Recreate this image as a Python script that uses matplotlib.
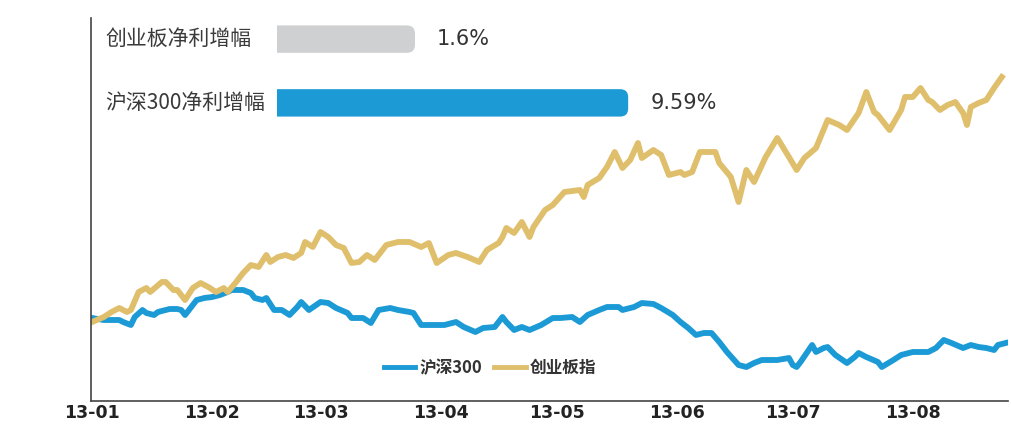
import numpy as np
import matplotlib
matplotlib.use("Agg")
import matplotlib.pyplot as plt
import matplotlib.transforms as mtransforms
from matplotlib.patches import FancyBboxPatch

plt.rcParams['font.family'] = ['Noto Sans CJK SC', 'DejaVu Sans']

# ---------------- data ----------------
start_date = np.datetime64('2013-01-01')
month_labels = ['13-01', '13-02', '13-03', '13-04', '13-05', '13-06', '13-07', '13-08']

series_names = ['沪深300', '创业板指']

# days since 2013-01-01 and relative index level (arbitrary units)
cyb_days = [0, 3, 5, 7, 9, 10, 12, 14, 15, 18, 19, 21, 22, 24, 26, 28, 30, 32, 34, 35,
            37, 39, 41, 43, 45, 46, 48, 50, 52, 54, 55, 57, 59, 61, 63, 65, 67, 69, 71, 73,
            76, 79, 82, 85, 87, 89, 92, 94, 97, 100, 102, 105, 106, 107, 109, 111, 113, 114, 117, 119,
            122, 126, 127, 128, 131, 133, 135, 137, 139, 141, 142, 145, 147, 149, 152, 153, 155, 157, 161, 162,
            165, 167, 169, 171, 174, 177, 180, 182, 184, 187, 190, 193, 195, 198, 200, 202, 203, 206, 209, 210,
            212, 214, 216, 217, 219, 221, 223, 225, 226, 227, 229, 231, 233, 235]
cyb_vals = [79, 84, 89, 93, 89, 91, 109, 113, 109, 119,
            119, 111, 111, 101, 113, 118, 114, 109, 113, 109,
            118, 128, 136, 134, 146, 139, 144, 146, 143, 148,
            159, 154, 169, 164, 156, 153, 138, 139, 146, 141,
            156, 159, 159, 154, 158, 138, 146, 148, 144, 139,
            151, 158, 164, 173, 168, 179, 164, 174, 191, 196,
            209, 211, 204, 216, 223, 234, 249, 233, 241, 258,
            243, 251, 246, 226, 229, 226, 229, 249, 249, 238,
            224, 199, 231, 219, 244, 263, 244, 231, 243, 253,
            281, 276, 271, 288, 309, 289, 286, 271, 291, 304,
            304, 313, 301, 299, 291, 296, 299, 288, 276, 294,
            298, 301, 313, 324]

hs300_days = [0, 3, 5, 7, 8, 10, 11, 13, 14, 16, 17, 20, 22, 23, 24, 26, 27, 29, 31, 33,
              35, 36, 39, 41, 42, 44, 45, 47, 49, 51, 53, 54, 56, 59, 61, 63, 66, 67, 70, 72,
              74, 77, 79, 82, 83, 85, 88, 91, 94, 96, 99, 101, 104, 106, 107, 109, 111, 113, 116, 119,
              121, 124, 126, 128, 131, 133, 136, 137, 140, 142, 145, 147, 150, 152, 154, 156, 158, 160, 162, 164,
              167, 169, 171, 173, 177, 180, 181, 182, 183, 186, 187, 189, 190, 192, 195, 197, 198, 200, 203, 204,
              207, 209, 212, 216, 218, 220, 222, 225, 227, 229, 231, 233, 234, 236]
hs300_vals = [83, 81, 81, 81, 79, 76, 84, 91, 88, 86,
              89, 92, 92, 91, 86, 96, 101, 103, 104, 106,
              109, 111, 111, 108, 103, 101, 103, 91, 91, 86,
              94, 99, 91, 99, 98, 93, 88, 83, 83, 78,
              91, 93, 91, 89, 88, 76, 76, 76, 79, 74,
              69, 73, 74, 84, 79, 71, 74, 71, 76, 83,
              83, 84, 79, 86, 91, 94, 94, 91, 94, 98,
              97, 93, 86, 79, 73, 66, 68, 68, 59, 49,
              36, 34, 38, 41, 41, 43, 36, 34, 39, 56,
              49, 53, 54, 46, 38, 44, 48, 44, 39, 34,
              41, 46, 49, 49, 53, 61, 58, 53, 56, 54,
              53, 51, 56, 58]

bar_labels = ['创业板净利增幅', '沪深300净利增幅']
bar_values = [1.6, 9.59]
bar_texts = ['1.6%', '9.59%']

# ---------------- style ----------------
BLUE = '#1b9ad6'
GOLD = '#dfbf6b'
GRAY_BAR = '#cfd0d2'
TEXT = '#333333'
W, H = 1012, 425

fig = plt.figure(figsize=(W / 100, H / 100), dpi=100)
fig.patch.set_facecolor('white')

ax = fig.add_axes([91 / W, 1 - 401 / H, (1008 - 91) / W, (401 - 18) / H])
l1, = ax.plot(hs300_days, hs300_vals, color=BLUE, lw=4.2, solid_joinstyle='round')
l2, = ax.plot(cyb_days, cyb_vals, color=GOLD, lw=4.2, solid_joinstyle='round')

ax.set_xlim(-0.3, 236.6)
ax.set_ylim(0, 383)

month_starts = np.arange('2013-01', '2013-09', dtype='datetime64[M]').astype('datetime64[D]')
tick_pos = (month_starts - start_date).astype(int)
ax.set_xticks(tick_pos)
ax.set_xticklabels(month_labels, fontsize=12.5, color='#222222', family=['DejaVu Sans'],
                   fontweight='bold')
ax.tick_params(axis='x', length=0, pad=2)
ax.set_yticks([])
for s in ['top', 'right']:
    ax.spines[s].set_visible(False)
for s in ['left', 'bottom']:
    ax.spines[s].set_color('#444444')
    ax.spines[s].set_linewidth(1.2)

leg = fig.legend([l1, l2], series_names, loc='center', bbox_to_anchor=(490 / W, 1 - 368 / H),
                 ncol=2, frameon=False, prop={'size': 12, 'weight': 'bold'},
                 handlelength=1.9, handletextpad=0.25, columnspacing=0.7, labelcolor=TEXT)
for h in leg.legend_handles:
    h.set_linewidth(3.5)

# ---------------- inset bars ----------------
BASE = -3.57
ax_in = fig.add_axes([277 / W, 1 - 122 / H, (760 - 277) / W, (122 - 20) / H])
ax_in.set_xlim(BASE, BASE + 18.1)
ax_in.set_ylim(1.3, -0.3)
ax_in.axis('off')
bar_colors = [GRAY_BAR, BLUE]
bh = 0.43
for i, (v, c) in enumerate(zip(bar_values, bar_colors)):
    p = FancyBboxPatch((BASE - 0.6, i - bh / 2), v - BASE + 0.6, bh,
                       boxstyle='round,pad=0,rounding_size=0.3', mutation_aspect=0.42,
                       facecolor=c, edgecolor='none', clip_on=True)
    ax_in.add_patch(p)
    p.set_clip_path(ax_in.patch)
    ax_in.annotate(bar_texts[i], xy=(v, i), xytext=(16, 0), textcoords='offset points',
                   ha='left', va='center', fontsize=15, color=TEXT, family=['DejaVu Sans'])

trans = mtransforms.blended_transform_factory(fig.transFigure, ax_in.transData)
for i, lab in enumerate(bar_labels):
    fig.text(105 / W, i, lab, transform=trans, ha='left', va='center', fontsize=15, color='#3a3a3a')

fig.savefig('out.png', dpi=100, facecolor='white')
